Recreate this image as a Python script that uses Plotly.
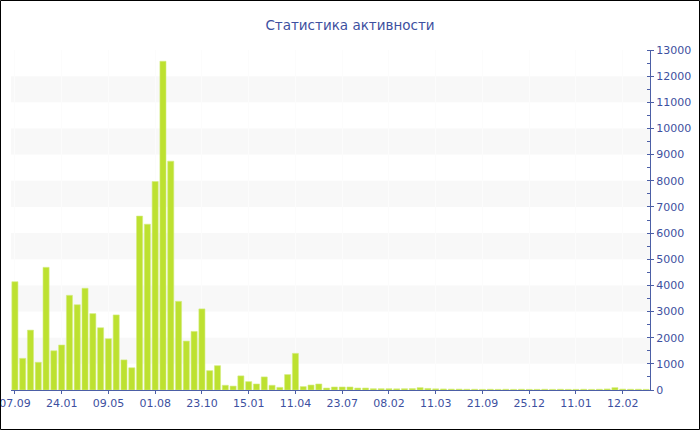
import plotly.graph_objects as go

title_text = "Статистика активности"
values = [4140, 1210, 2290, 1060, 4690, 1500, 1720, 3620, 3260, 3890,
          2920, 2380, 1960, 2870, 1150, 850, 6650, 6340, 7970, 12570,
          8750, 3390, 1870, 2240, 3100, 740, 930, 180, 150, 540,
          320, 230, 500, 180, 100, 590, 1400, 130, 190, 230,
          75, 115, 115, 115, 75, 75, 50, 50, 50,
          45, 50, 55, 90, 60, 45, 40, 35, 35, 30,
          30, 25, 30, 25, 30, 25, 30, 25, 25, 30,
          25, 30, 25, 25, 30, 25, 30, 40, 90, 35,
          30, 30, 25]
positions = list(range(len(values)))
tick_labels = ["07.09", "24.01", "09.05", "01.08", "23.10", "15.01", "11.04",
               "23.07", "08.02", "11.03", "21.09", "25.12", "11.01", "12.02"]
tick_positions = [positions[i * 6] for i in range(len(tick_labels))]
band_starts = [1000, 3000, 5000, 7000, 9000, 11000]

W, H = 700, 430
ML, MR, MT, MB = 11, 50, 50, 40
PW, PH = W - ML - MR, H - MT - MB

axis_col = "#4c5fa6"
text_col = "#3d50a0"

fig = go.Figure(go.Bar(
    x=positions, y=values,
    marker=dict(color="#bde130", line=dict(width=0.6, color="#d4ec80")),
    width=0.78,
    hoverinfo="x+y",
))

shapes = []
for b in band_starts:
    shapes.append(dict(type="rect", xref="paper", yref="y", x0=0, x1=1, y0=b, y1=b + 1000,
                       fillcolor="#f8f8f8", line=dict(width=0), layer="below"))
shapes.append(dict(type="rect", xref="paper", yref="paper",
                   x0=(0.5 - ML) / PW, x1=(W - 0.5 - ML) / PW,
                   y0=-(MB - 0.5) / PH, y1=(H - MB - 0.5) / PH,
                   line=dict(color="black", width=1), fillcolor="rgba(0,0,0,0)", layer="above"))

fig.update_layout(
    width=W, height=H, autosize=False,
    margin=dict(l=ML, r=MR, t=MT, b=MB, pad=0, autoexpand=False),
    paper_bgcolor="white", plot_bgcolor="white",
    font=dict(family="DejaVu Sans", color=text_col, size=11),
    title=dict(text=title_text, x=0.5, xref="container", xanchor="center",
               y=1 - 25 / H, yref="container", yanchor="middle",
               font=dict(size=13.5, color=text_col, family="DejaVu Sans")),
    showlegend=False,
    bargap=0.2,
    shapes=shapes,
    xaxis=dict(range=[-0.5, len(values) - 0.5], tickmode="array",
               tickvals=tick_positions, ticktext=tick_labels,
               automargin=False, ticklabeloverflow="allow",
               showgrid=True, gridcolor="#fcfcfc", gridwidth=1,
               showline=True, linecolor=axis_col, linewidth=1,
               ticks="outside", ticklen=3, tickcolor=axis_col,
               tickfont=dict(size=11, color=text_col), zeroline=False, fixedrange=True),
    yaxis=dict(range=[0, 13000], side="right", dtick=1000, tick0=0,
               automargin=False, ticklabeloverflow="allow",
               tickformat="d", exponentformat="none",
               showgrid=False, zeroline=False,
               showline=True, linecolor=axis_col, linewidth=1,
               ticks="outside", ticklen=3, tickcolor=axis_col,
               minor=dict(dtick=500, ticks="inside", ticklen=3, tickcolor=axis_col, showgrid=False),
               tickfont=dict(size=11, color=text_col), fixedrange=True),
)

fig.write_html("out.html", config={"displayModeBar": False},
               post_script="document.body.style.margin='0';document.body.style.overflow='hidden';")
